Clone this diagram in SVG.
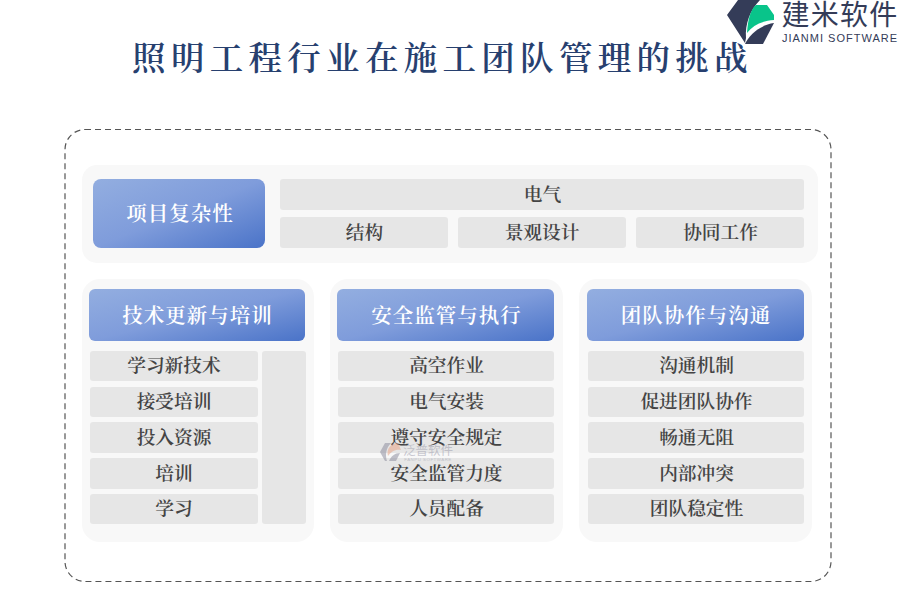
<svg xmlns="http://www.w3.org/2000/svg" width="900" height="600" viewBox="0 0 900 600">
<defs>
<linearGradient id="g" x1="0" y1="0" x2="1" y2="1"><stop offset="0" stop-color="#93aee0"/><stop offset="0.5" stop-color="#7f9cdb"/><stop offset="1" stop-color="#4a73c8"/></linearGradient>
</defs>
<style>
text{font-family:"Noto Serif CJK SC","Liberation Serif","Noto Sans CJK SC",serif;text-anchor:middle}
.panel{fill:#f8f8f8}
.h{fill:url(#g)}
.ht{fill:#fff;font-size:20.5px;letter-spacing:1px;font-weight:600}
.c{fill:#e6e6e6}
.ct{fill:#444;font-size:18.7px;font-weight:600}
</style>
<rect width="900" height="600" fill="#fff"/>
<text id="title" x="442.5" y="70" font-size="33.5" letter-spacing="5.3" font-weight="600" fill="#27406f">照明工程行业在施工团队管理的挑战</text>
<g id="logo">
<path d="M738 0H760C750 10 745 24 746 38L745 43L727 15Z" fill="#343c58"/>
<path d="M747 33C748 20 750 10 756 5L767 5L774 15V20C762 21 753 25 747 33Z" fill="#09c48a"/>
<path d="M745 44C749 35 760 25 774 23L763 44Z" fill="#343c58"/>
<text x="840" y="25" font-size="28" letter-spacing="1.2" fill="#343c58" style="font-family:'Noto Sans CJK SC',sans-serif">建米软件</text>
<text x="840" y="42" font-size="11" letter-spacing="1" fill="#343c58" style="font-family:'Liberation Sans',sans-serif">JIANMI SOFTWARE</text>
</g>
<rect id="frame" x="65" y="129.500" width="766" height="452" rx="20" fill="none" stroke="#555" stroke-width="1.2" stroke-dasharray="6 4"/>
<g id="top">
<rect class="panel" x="82" y="165" width="736" height="98" rx="15"/>
<rect class="h" x="93" y="179" width="172" height="69" rx="8"/>
<text class="ht" x="180" y="221">项目复杂性</text>
<rect class="c" x="280" y="179" width="524" height="31" rx="3"/>
<text class="ct" x="542.500" y="201">电气</text>
<rect class="c" x="280" y="217" width="168" height="31" rx="3"/>
<text class="ct" x="364.500" y="239">结构</text>
<rect class="c" x="458" y="217" width="168" height="31" rx="3"/>
<text class="ct" x="542" y="239">景观设计</text>
<rect class="c" x="636" y="217" width="168" height="31" rx="3"/>
<text class="ct" x="720.500" y="239">协同工作</text>
</g>
<g id="col1">
<rect class="panel" x="82" y="279" width="232" height="263" rx="18"/>
<rect class="h" x="89" y="289" width="216" height="52" rx="6"/>
<text class="ht" x="197.500" y="323">技术更新与培训</text>
<rect class="c" x="90" y="351" width="168" height="30" rx="3"/><text class="ct" x="174" y="372">学习新技术</text>
<rect class="c" x="90" y="387" width="168" height="30" rx="3"/><text class="ct" x="174" y="408">接受培训</text>
<rect class="c" x="90" y="422" width="168" height="31" rx="3"/><text class="ct" x="174" y="444">投入资源</text>
<rect class="c" x="90" y="458" width="168" height="31" rx="3"/><text class="ct" x="174" y="480">培训</text>
<rect class="c" x="90" y="494" width="168" height="30" rx="3"/><text class="ct" x="174" y="515">学习</text>
<rect class="c" x="262" y="351" width="44" height="173" rx="3"/>
</g>
<g id="col2">
<rect class="panel" x="330" y="279" width="233" height="263" rx="18"/>
<rect class="h" x="337" y="289" width="217" height="52" rx="6"/>
<text class="ht" x="446.500" y="323">安全监管与执行</text>
<rect class="c" x="338" y="351" width="216" height="30" rx="3"/><text class="ct" x="446.500" y="372">高空作业</text>
<rect class="c" x="338" y="387" width="216" height="30" rx="3"/><text class="ct" x="446.500" y="408">电气安装</text>
<rect class="c" x="338" y="422" width="216" height="31" rx="3"/><text class="ct" x="446.500" y="444">遵守安全规定</text>
<rect class="c" x="338" y="458" width="216" height="31" rx="3"/><text class="ct" x="446.500" y="480">安全监管力度</text>
<rect class="c" x="338" y="494" width="216" height="30" rx="3"/><text class="ct" x="446.500" y="515">人员配备</text>
</g>
<g id="col3">
<rect class="panel" x="579" y="279" width="233" height="263" rx="18"/>
<rect class="h" x="587" y="289" width="217" height="52" rx="6"/>
<text class="ht" x="696" y="323">团队协作与沟通</text>
<rect class="c" x="588" y="351" width="216" height="30" rx="3"/><text class="ct" x="696.500" y="372">沟通机制</text>
<rect class="c" x="588" y="387" width="216" height="30" rx="3"/><text class="ct" x="696.500" y="408">促进团队协作</text>
<rect class="c" x="588" y="422" width="216" height="31" rx="3"/><text class="ct" x="696.500" y="444">畅通无阻</text>
<rect class="c" x="588" y="458" width="216" height="31" rx="3"/><text class="ct" x="696.500" y="480">内部冲突</text>
<rect class="c" x="588" y="494" width="216" height="30" rx="3"/><text class="ct" x="696.500" y="515">团队稳定性</text>
</g>
<g id="watermark" opacity="0.5">
<path d="M385 443H391C386 448 385 455 387 461L385 461L380 452Z" fill="#889"/>
<path d="M388 456C386 449 391 443 398 443L401 450C395 449 391 452 388 456Z" fill="#e8a080"/>
<path d="M389 461C391 456 395 453 400 453L396 461Z" fill="#889"/>
<text x="428" y="455" font-size="12.5" fill="#99a" style="font-family:'Noto Sans CJK SC',sans-serif">泛普软件</text>
<text x="428" y="460.500" font-size="4.400" letter-spacing="0.5" fill="#99a" style="font-family:'Liberation Sans',sans-serif">FANPU SOFTWARE</text>
</g>
</svg>
